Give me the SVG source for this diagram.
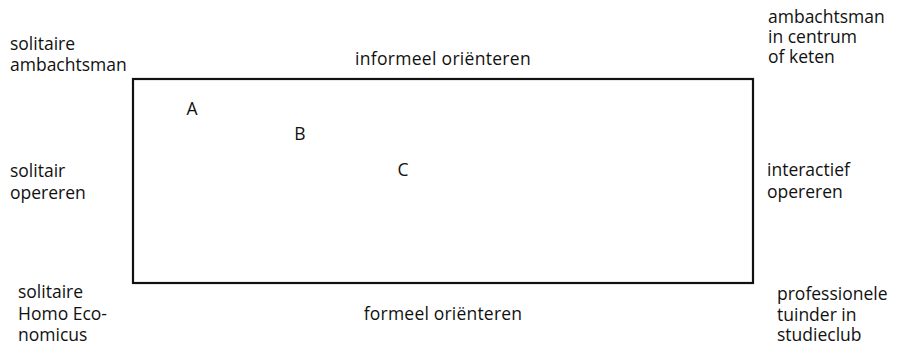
<svg xmlns="http://www.w3.org/2000/svg" width="902" height="347" viewBox="0 0 902 347">
  <style>
    text { font-family: "Open Sans", "Noto Sans", "Liberation Sans", sans-serif; font-size: 17.5px; fill: #111; }
    .mid { text-anchor: middle; }
    .frame { fill: none; stroke: #111; stroke-width: 2.2; }
  </style>
  <rect width="902" height="347" fill="#fff"/>

  <!-- central field -->
  <g id="field">
    <rect class="frame" x="133" y="79" width="620" height="204"/>
  </g>

  <!-- axis labels -->
  <g id="axis-top"><text class="mid" x="443" y="65" letter-spacing="0.3">informeel oriënteren</text></g>
  <g id="axis-bottom"><text class="mid" x="443" y="320" letter-spacing="0.2">formeel oriënteren</text></g>
  <g id="axis-left">
    <text x="10" y="177">solitair</text>
    <text x="10" y="199">opereren</text>
  </g>
  <g id="axis-right">
    <text x="767" y="176">interactief</text>
    <text x="767" y="198">opereren</text>
  </g>

  <!-- corner types -->
  <g id="corner-top-left">
    <text x="10" y="50">solitaire</text>
    <text x="10" y="71">ambachtsman</text>
  </g>
  <g id="corner-top-right">
    <text x="768" y="23">ambachtsman</text>
    <text x="768" y="43">in centrum</text>
    <text x="768" y="63">of keten</text>
  </g>
  <g id="corner-bottom-left">
    <text x="18" y="298">solitaire</text>
    <text x="18" y="320">Homo Eco-</text>
    <text x="18" y="341">nomicus</text>
  </g>
  <g id="corner-bottom-right">
    <text x="777" y="300">professionele</text>
    <text x="777" y="321">tuinder in</text>
    <text x="777" y="341">studieclub</text>
  </g>

  <!-- positions -->
  <g id="point-A"><text class="mid" x="192" y="115">A</text></g>
  <g id="point-B"><text class="mid" x="300" y="140">B</text></g>
  <g id="point-C"><text class="mid" x="403" y="176">C</text></g>
</svg>
